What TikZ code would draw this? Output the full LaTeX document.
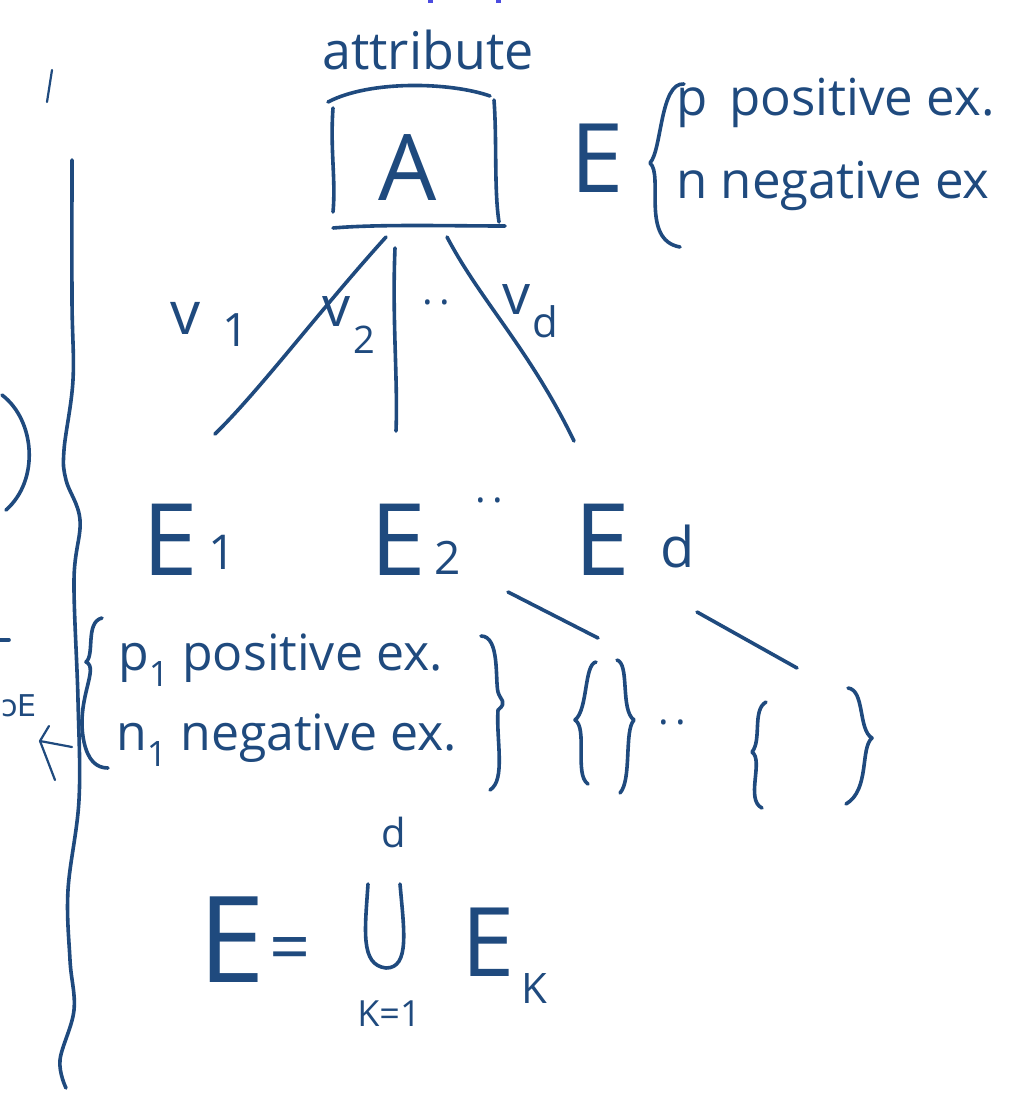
\documentclass[tikz,border=0pt]{standalone}
\usepackage{fontspec}
\setmainfont{Open Sans}
\newfontfamily\dejafont{DejaVu Sans}
\definecolor{ink}{HTML}{1F4A7E}
\definecolor{violet}{HTML}{4B4BE0}
\begin{document}
\begin{tikzpicture}[x=1pt,y=-1pt,
  every node/.style={text=ink,inner sep=0pt},
  pen/.style={draw=ink,line width=3.6pt,line cap=round,line join=round},
  thin pen/.style={draw=ink,line width=2.2pt,line cap=round,line join=round},
  fs/.style={font=\fontsize{#1}{#1}\selectfont}]
\useasboundingbox (0,0) rectangle (1019,1095);
\fill[white] (0,0) rectangle (1019,1095);
% tiny marks at top
\fill[violet] (428,0) rectangle (433,3);
\fill[violet] (496,0) rectangle (501,3);
% left partial marks
\draw[thin pen] (52,70) -- (47,102);
\draw[pen] (2,395) .. controls (35,420) and (40,480) .. (6,510);
\draw[pen] (0,640) -- (9,640);
\node[font=\dejafont\fontsize{30}{30}\selectfont,anchor=west] (supE) at (1,706) {ɔE};
\coordinate (arrS) at (72,747);
\coordinate (arrT) at (40,741);
\draw[thin pen] (arrS) -- (arrT);
\draw[thin pen] (49,726) -- (arrT) -- (55,780);
% wavy separator
\draw[pen] plot[smooth,tension=0.6] coordinates {(72,160) (72,300) (73,380) (64,450) (66,480) (80,520) (74,580) (78,700) (79,800) (68,890) (70,960) (74,1010) (60,1060) (66,1088)};
% attribute + box A
\node[fs=52] (attr) at (428,50) {attribute};
\node[fs=92] (A) at (408,168) {A};
\draw[pen] (328,102) .. controls (370,80) and (450,82) .. (490,96);
\draw[pen] (333,108) .. controls (330,150) and (336,180) .. (333,212);
\draw[pen] (494,100) .. controls (497,140) and (494,190) .. (499,222);
\draw[pen] (333,228) .. controls (380,224) and (450,226) .. (505,226);
\coordinate (aL) at (386,237);
\coordinate (aM) at (395,248);
\coordinate (aR) at (447,237);
% top-right E with brace
\node[fs=96] (Etop) at (597,158) {E};
\draw[pen] (684,84) .. controls (660,82) and (662,150) .. (650,163)
            .. controls (664,175) and (640,240) .. (680,247);
\node[fs=51,anchor=west] (pos) at (676,103) {p\, positive ex.};
\node[fs=51,anchor=west] (neg) at (676,186) {n negative ex};
% branch labels
\node[fs=60] (v1) at (186,318) {v};
\node[fs=46] (v1s) at (236,330) {1};
\node[fs=56] (v2) at (337,312) {v};
\node[fs=38] (v2s) at (364,340) {2};
\node[fs=40] (dots1) at (436,302) {.\,.};
\node[fs=56] (vd) at (517,300) {v};
\node[fs=42] (vds) at (545,322) {d};
% E1, E2, Ed
\node[fs=100] (E1) at (170,540) {E};
\node[fs=48] (E1s) at (222,552) {1};
\node[fs=100] (E2) at (398,540) {E};
\node[fs=46] (E2s) at (448,558) {2};
\node[fs=40] (dots2) at (489,500) {.\,.};
\node[fs=100] (Ed) at (602,540) {E};
\node[fs=56] (Eds) at (678,546) {d};
\coordinate (e1t) at (215,434);
\coordinate (e2t) at (396,431);
\coordinate (edt) at (574,441);
\draw[pen] (aL) .. controls (320,310) and (260,390) .. (e1t);
\draw[pen] (aM) .. controls (392,320) and (398,380) .. (e2t);
\draw[pen] (aR) .. controls (480,300) and (530,350) .. (edt);
% lines to lower braces
\coordinate (l1a) at (508,592); \coordinate (l1b) at (598,638);
\coordinate (l2a) at (697,612); \coordinate (l2b) at (797,668);
\draw[pen] (l1a) -- (l1b);
\draw[pen] (l2a) -- (l2b);
% E1 subset
\draw[pen] (102,618) .. controls (85,622) and (95,655) .. (86,662)
           .. controls (100,668) and (75,700) .. (84,742)
           .. controls (88,760) and (96,768) .. (108,768);
\node[fs=50,anchor=west] (p1) at (118,660) {p\textsubscript{1} positive ex.};
\node[fs=50,anchor=west] (n1) at (116,740) {n\textsubscript{1} negative ex.};
\draw[pen] (481,636) .. controls (500,636) and (495,680) .. (498,692)
           .. controls (500,700) and (508,702) .. (498,710)
           .. controls (496,740) and (506,780) .. (490,790);
% small braces
\draw[pen] (596,662) .. controls (584,664) and (588,710) .. (575,720)
           .. controls (588,728) and (574,775) .. (588,784);
\draw[pen] (617,660) .. controls (630,664) and (620,710) .. (634,720)
           .. controls (624,730) and (632,780) .. (620,793);
\node[fs=40] (dots3) at (672,722) {.\,.};
\draw[pen] (766,702) .. controls (752,710) and (762,740) .. (752,752)
           .. controls (764,760) and (745,800) .. (762,808);
\draw[pen] (848,688) .. controls (865,690) and (858,730) .. (872,738)
           .. controls (860,748) and (870,790) .. (846,804);
% union formula
\node[fs=40] (dsup) at (394,832) {d};
\node[fs=120] (Ebig) at (232,940) {E};
\node[fs=72] (eq) at (290,955) {=};
\draw[pen] (368,884) .. controls (365,930) and (360,965) .. (386,968)
           .. controls (410,968) and (404,930) .. (400,884);
\node[fs=36] (k1) at (389,1014) {K=1};
\node[fs=96] (Ek) at (488,942) {E};
\node[fs=42] (Eks) at (534,988) {K};
\end{tikzpicture}
\end{document}
